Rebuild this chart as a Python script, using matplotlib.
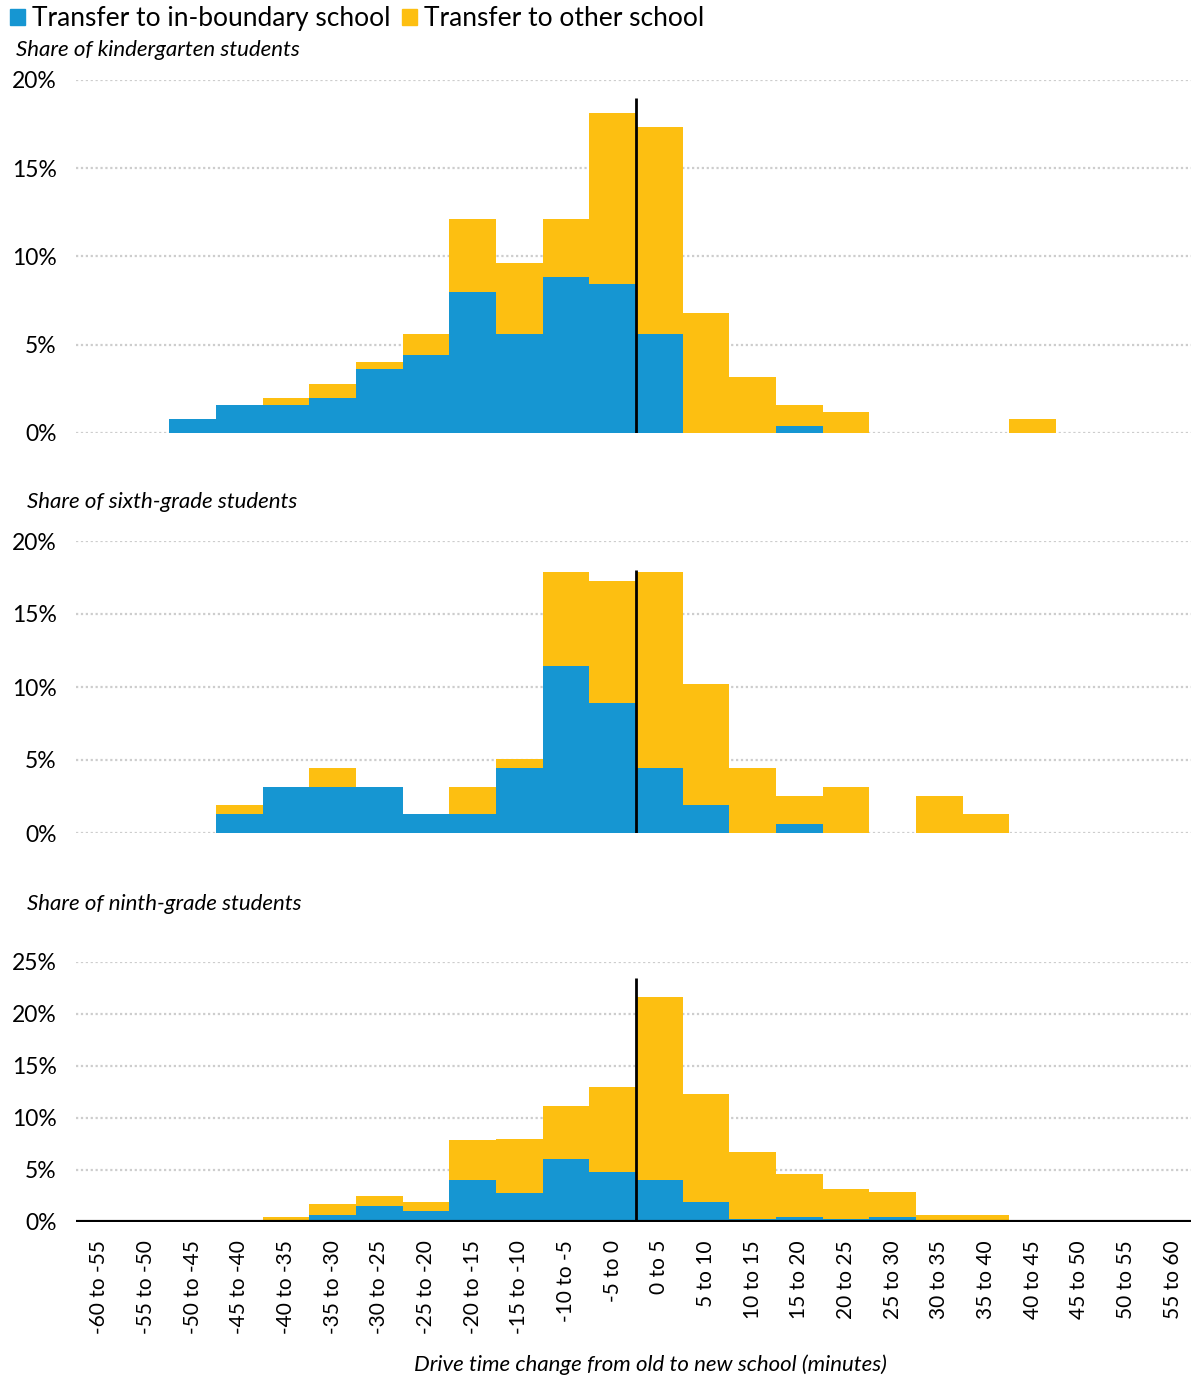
import matplotlib
matplotlib.use('Agg')
import numpy as np
import matplotlib.pyplot as plt
from matplotlib.patches import Patch

plt.rcParams['font.family'] = ['Lato', 'DejaVu Sans']

BLUE = '#1696d2'
YELLOW = '#fdbf11'

bins = ['-60 to -55', '-55 to -50', '-50 to -45', '-45 to -40', '-40 to -35',
        '-35 to -30', '-30 to -25', '-25 to -20', '-20 to -15', '-15 to -10',
        '-10 to -5', '-5 to 0', '0 to 5', '5 to 10', '10 to 15', '15 to 20',
        '20 to 25', '25 to 30', '30 to 35', '35 to 40', '40 to 45', '45 to 50',
        '50 to 55', '55 to 60']

# in-boundary share and total share (in-boundary + other), percent
kinder_in = [0, 0, 0.8, 1.6, 1.6, 2.0, 3.6, 4.4, 8.0, 5.6, 8.85, 8.45,
             5.6, 0, 0, 0.4, 0, 0, 0, 0, 0, 0, 0, 0]
kinder_total = [0, 0, 0.8, 1.6, 2.0, 2.8, 4.0, 5.6, 12.1, 9.65, 12.1, 18.15,
                17.35, 6.8, 3.2, 1.6, 1.2, 0, 0, 0, 0.8, 0, 0, 0]

sixth_in = [0, 0, 0, 1.28, 3.17, 3.17, 3.17, 1.28, 1.28, 4.45, 11.45, 8.93,
            4.45, 1.9, 0, 0.63, 0, 0, 0, 0, 0, 0, 0, 0]
sixth_total = [0, 0, 0, 1.9, 3.17, 4.45, 3.17, 1.28, 3.17, 5.1, 17.9, 17.25,
               17.9, 10.2, 4.45, 2.53, 3.17, 0, 2.53, 1.28, 0, 0, 0, 0]

ninth_in = [0, 0, 0, 0, 0, 0.67, 1.57, 1.06, 4.04, 2.82, 6.03, 4.8,
            4.04, 1.92, 0.29, 0.48, 0.29, 0.48, 0, 0, 0, 0, 0, 0]
ninth_total = [0, 0, 0, 0, 0.48, 1.73, 2.47, 1.92, 7.85, 8.0, 11.2, 13.0,
               21.6, 12.3, 6.76, 4.6, 3.17, 2.85, 0.67, 0.67, 0.13, 0, 0, 0]

panels = [
    ('Share of kindergarten students', kinder_in, kinder_total, 20, 19.0),
    ('Share of sixth-grade students', sixth_in, sixth_total, 20, 18.0),
    ('Share of ninth-grade students', ninth_in, ninth_total, 25, 23.5),
]

W, H = 1191, 1380
fig = plt.figure(figsize=(W / 100, H / 100), dpi=100)

# axes boxes in pixels: (top, bottom)
boxes = [(80, 433), (541, 833), (962, 1222)]
title_pos = [(16, 50), (27, 502), (27, 904)]
left, right = 76, 1196

x = np.arange(len(bins))
for i, (title, s_in, s_tot, ymax, vtop) in enumerate(panels):
    top, bottom = boxes[i]
    ax = fig.add_axes([left / W, 1 - bottom / H, (right - left) / W,
                       (bottom - top) / H])
    s_in = np.array(s_in)
    s_tot = np.array(s_tot)
    s_other = s_tot - s_in
    ax.bar(x, s_in, width=1.0, color=BLUE, zorder=2)
    ax.bar(x, s_other, width=1.0, bottom=s_in, color=YELLOW, zorder=2)
    ax.vlines(11.5, 0, vtop, color='black', linewidth=2, zorder=4)

    ax.set_xlim(-0.5, len(bins) - 0.5)
    ax.set_ylim(0, ymax)
    yt = np.arange(0, ymax + 1, 5)
    ax.set_yticks(yt)
    ax.set_yticklabels([f'{v}%' for v in yt], fontsize=16.5)
    ax.tick_params(axis='y', length=0, pad=14)
    ax.grid(axis='y', linestyle=(0, (1, 1.2)), color='#cdcdcd', linewidth=1.6,
            zorder=0)
    ax.set_axisbelow(True)
    for sp in ax.spines.values():
        sp.set_visible(False)

    if i == 2:
        ax.axhline(0, color='black', linewidth=3, zorder=5)
        ax.set_xticks(x)
        ax.set_xticklabels(bins, rotation=90, fontsize=15, va='top')
        ax.tick_params(axis='x', length=0, pad=13)
    else:
        ax.set_xticks([])

    tx, ty = title_pos[i]
    fig.text(tx / W, 1 - ty / H, title, fontsize=16, style='italic',
             va='center', ha='left')

fig.text(650 / W, 1 - 1365 / H,
         'Drive time change from old to new school (minutes)',
         fontsize=16, style='italic', ha='center', va='center')

handles = [Patch(color=BLUE, label='Transfer to in-boundary school'),
           Patch(color=YELLOW, label='Transfer to other school')]
fig.legend(handles=handles, loc='upper left',
           bbox_to_anchor=(10 / W, 1 - 6 / H),
           ncol=2, frameon=False, fontsize=19, handlelength=0.55,
           handleheight=0.55, handletextpad=0.3, columnspacing=0.42,
           borderpad=0, borderaxespad=0)

fig.savefig('out.png', dpi=100)
